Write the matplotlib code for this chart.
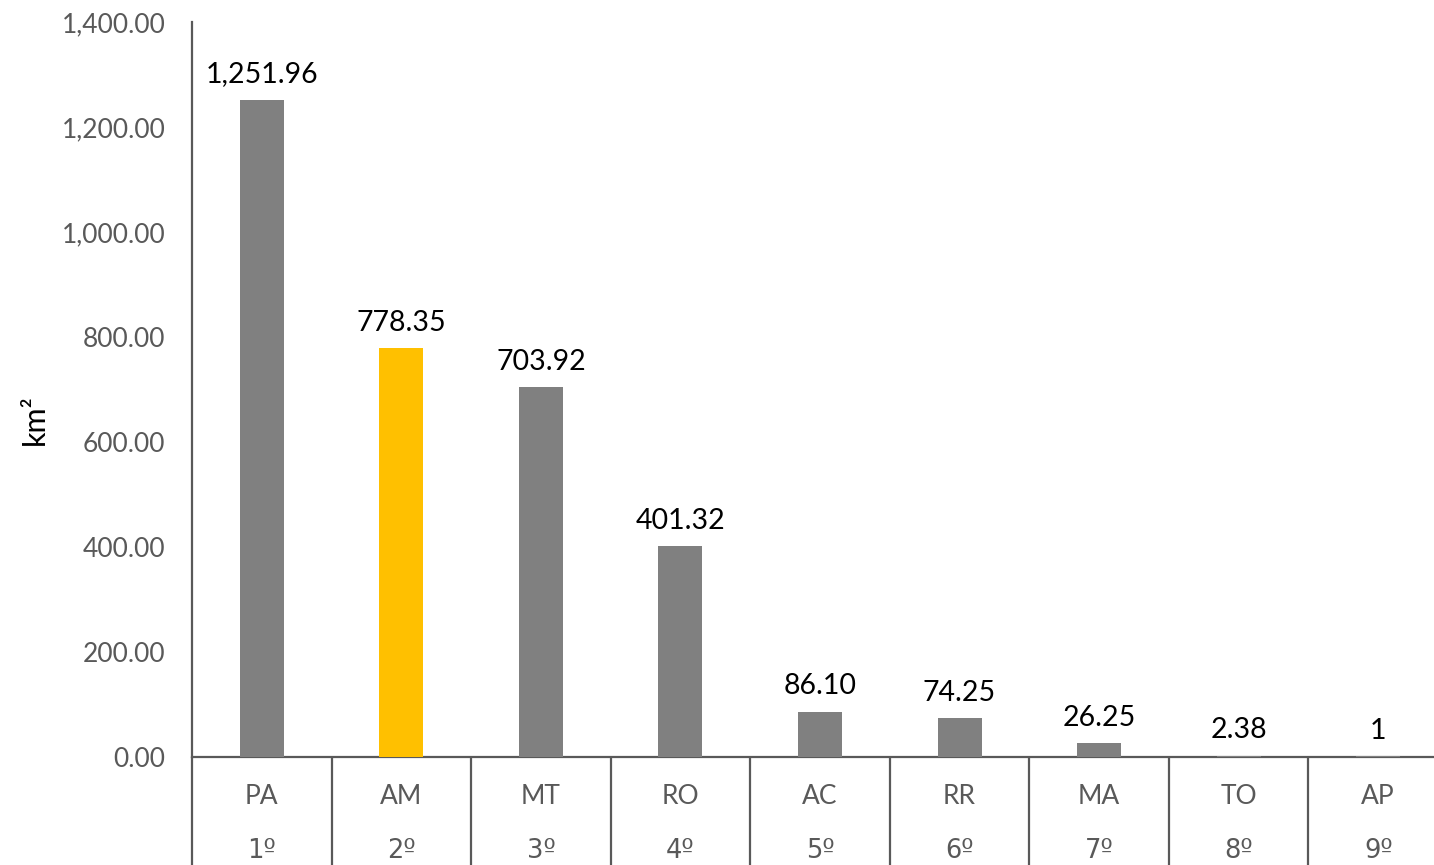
import matplotlib
matplotlib.use("Agg")
import matplotlib.pyplot as plt
import matplotlib.transforms as mtransforms

states = ["PA", "AM", "MT", "RO", "AC", "RR", "MA", "TO", "AP"]
ranks = ["1º", "2º", "3º", "4º", "5º", "6º", "7º", "8º", "9º"]
values = [1251.96, 778.35, 703.92, 401.32, 86.10, 74.25, 26.25, 2.38, 1]
labels = ["1,251.96", "778.35", "703.92", "401.32", "86.10", "74.25", "26.25", "2.38", "1"]
highlight = "AM"

plt.rcParams['font.family'] = ['Lato', 'DejaVu Sans']

W, H = 1434, 865
fig = plt.figure(figsize=(W / 100, H / 100), dpi=100)
ax = fig.add_axes([192 / W, (H - 757) / H, (1448 - 192) / W, (757 - 22) / H])

x = list(range(len(states)))
colors = ["#FFC000" if s == highlight else "#808080" for s in states]
ax.bar(x, values, width=0.315, color=colors, zorder=3)

ax.set_xlim(-0.5, len(states) - 0.5)
ax.set_ylim(0, 1400)
ax.set_yticks(range(0, 1401, 200))
ax.set_yticklabels([f"{v:,.2f}" for v in range(0, 1401, 200)])
ax.tick_params(axis='y', length=0, pad=19, labelsize=19, labelcolor="#595959")
ax.set_xticks([])

for s in ["top", "right"]:
    ax.spines[s].set_visible(False)
for s in ["left", "bottom"]:
    ax.spines[s].set_color("#595959")
    ax.spines[s].set_linewidth(1.6)
    ax.spines[s].set_zorder(2)

for xi, v, lab in zip(x, values, labels):
    ax.annotate(lab, (xi, v), xytext=(0, 9), textcoords="offset points",
                ha="center", va="bottom", fontsize=20.5, color="black")

trans = mtransforms.blended_transform_factory(ax.transData, ax.transAxes)
for i in range(len(states) + 1):
    ax.plot([i - 0.5, i - 0.5], [0, -0.2], transform=trans, color="#595959",
            lw=1.6, clip_on=False, solid_capstyle="butt")

for xi, s, r in zip(x, states, ranks):
    ax.text(xi, -40 / 735, s, transform=trans, ha="center", va="center",
            fontsize=19, color="#595959")
    ax.text(xi, -94 / 735, r, transform=trans, ha="center", va="center",
            fontsize=18.5, color="#595959", family=["DejaVu Sans"])

fig.text(35 / W, (H - 420) / H, "km²", rotation=90, ha="center", va="center",
         fontsize=22, color="black")

fig.savefig("out.png", dpi=100)
